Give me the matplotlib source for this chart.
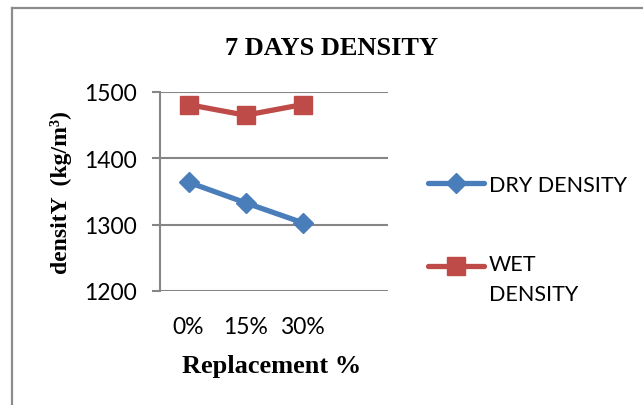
import matplotlib
matplotlib.use("Agg")
import matplotlib.pyplot as plt
from matplotlib.lines import Line2D
from matplotlib.legend_handler import HandlerLine2D

categories = ["0%", "15%", "30%"]
dry_density = [1364, 1333, 1303]
wet_density = [1481, 1465, 1481]
y_ticks = [1200, 1300, 1400, 1500]

W, H = 643, 406
fig = plt.figure(figsize=(W / 100, H / 100), dpi=100)
fig.patch.set_facecolor("white")

def fx(px):
    return px / W

def fy(py):
    return 1 - py / H

ax = fig.add_axes([fx(160), fy(292), fx(388) - fx(160), fy(93) - fy(292)])

x = list(range(len(categories)))
blue = "#4A7EBB"
red = "#BE4B48"
grid_c = "#868686"

l_dry, = ax.plot(x, dry_density, color=blue, lw=3.8, marker="D", ms=10.5,
                 label="DRY DENSITY", solid_capstyle="round", zorder=3)
l_wet, = ax.plot(x, wet_density, color=red, lw=3.8, marker="s", ms=13,
                 label="WET\nDENSITY", solid_capstyle="round", zorder=3)

ax.set_xlim(-0.5, 3.5)
ax.set_ylim(1200, 1500)
ax.set_yticks(y_ticks)
ax.set_xticks(x)
ax.set_xticklabels(categories)

for s in ["top", "right", "bottom"]:
    ax.spines[s].set_visible(False)
ax.spines["left"].set_color(grid_c)
ax.spines["left"].set_linewidth(1.5)
ax.yaxis.grid(True, color=grid_c, lw=1.5)
ax.set_axisbelow(True)
ax.tick_params(axis="y", length=6, width=1.5, color=grid_c, pad=11,
               labelsize=16.5)
ax.tick_params(axis="x", length=0, pad=18, labelsize=16.5)
for lab in ax.get_xticklabels() + ax.get_yticklabels():
    lab.set_fontfamily("Lato")

fig.text(fx(332), fy(55), "7 DAYS DENSITY", ha="center", va="baseline",
         fontsize=19, fontweight="bold", family="Liberation Serif")
fig.text(fx(272), fy(367), "Replacement %", ha="center", va="center",
         fontsize=19, fontweight="bold", family="Liberation Serif")
fig.text(fx(61), fy(193), "densitY  (kg/m³)", ha="center", va="center",
         rotation=90, fontsize=17, fontweight="bold", family="Liberation Serif")


class ShiftedHandler(HandlerLine2D):
    def __init__(self, shift=0.0, **kw):
        super().__init__(**kw)
        self.shift = shift

    def create_artists(self, legend, orig_handle, xdescent, ydescent,
                       width, height, fontsize, trans):
        return super().create_artists(legend, orig_handle, xdescent,
                                      ydescent - self.shift, width, height,
                                      fontsize, trans)


leg = ax.legend(handles=[l_dry, l_wet], loc="upper left",
                bbox_to_anchor=(fx(417), fy(165)),
                bbox_transform=fig.transFigure, frameon=False,
                prop={"family": "Lato", "size": 15.5}, handlelength=2.6,
                handletextpad=0.25, labelspacing=2.75, borderpad=0,
                handler_map={l_wet: ShiftedHandler(shift=19)})
leg.get_texts()[1].set_linespacing(1.65)

# outer chart frame (top and left visible)
fig.add_artist(Line2D([fx(12), fx(12)], [0, fy(9)], color="#8C8C8C", lw=1.6))
fig.add_artist(Line2D([fx(12), 1], [fy(9), fy(9)], color="#8C8C8C", lw=1.6))

fig.savefig("out.png", dpi=100, facecolor="white")
